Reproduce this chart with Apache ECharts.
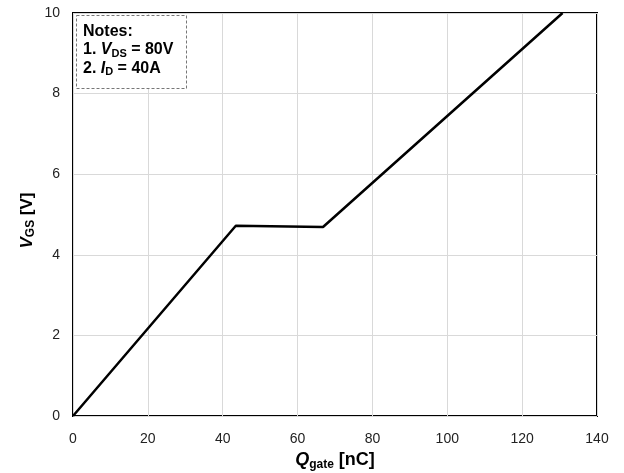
<!DOCTYPE html>
<html>
<head>
<meta charset="utf-8">
<script src="https://cdn.jsdelivr.net/npm/echarts@6/dist/echarts.min.js"></script>
<style>
  html, body { margin: 0; padding: 0; background: #fff; }
  #main { width: 624px; height: 473px; }
</style>
</head>
<body>
<div id="main"></div>
<script type="text/javascript">
    // gate charge curve
    var qGate = [0, 43.5, 66.8, 130.8];
    var vGs = [0, 4.72, 4.69, 10];
    var xTicks = [0, 140, 20];
    var yTicks = [0, 10, 2];

    var points = [];
    for (var i = 0; i < qGate.length; i++) {
        points.push([qGate[i], vGs[i]]);
    }

    var font = 'Liberation Sans, Arial, sans-serif';
    var myChart = echarts.init(document.getElementById('main'));

    var option = {
        animation: false,
        backgroundColor: '#fff',
        grid: {
            left: 73, right: 27, top: 13, bottom: 57,
            outerBoundsMode: 'none',
            show: true, borderColor: '#000', borderWidth: 2
        },
        xAxis: {
            type: 'value',
            min: xTicks[0], max: xTicks[1], interval: xTicks[2],
            name: '{q|Q}{s|gate}{b| [nC]}',
            nameLocation: 'middle',
            nameGap: 31,
            nameTextStyle: {
                rich: {
                    q: { fontFamily: font, fontSize: 18, fontWeight: 'bold', fontStyle: 'italic', color: '#000' },
                    s: { fontFamily: font, fontSize: 12, fontWeight: 'bold', color: '#000', verticalAlign: 'bottom', padding: [9, 0, 0, 0] },
                    b: { fontFamily: font, fontSize: 18, fontWeight: 'bold', color: '#000' }
                }
            },
            axisLine: { show: false },
            axisTick: { show: false },
            axisLabel: { fontFamily: font, fontSize: 14, color: '#222', margin: 16 },
            splitLine: { lineStyle: { color: '#d9d9d9', width: 1 } }
        },
        yAxis: {
            type: 'value',
            min: yTicks[0], max: yTicks[1], interval: yTicks[2],
            name: '{q|V}{s|GS}{b| [V]}',
            nameLocation: 'middle',
            nameGap: 36,
            nameMoveOverlap: false,
            nameRotate: 90,
            nameTextStyle: {
                padding: [0, 12, 0, 0],
                rich: {
                    q: { fontFamily: font, fontSize: 17, fontWeight: 'bold', fontStyle: 'italic', color: '#000' },
                    s: { fontFamily: font, fontSize: 12, fontWeight: 'bold', color: '#000', verticalAlign: 'bottom', padding: [8, 0, 0, 0] },
                    b: { fontFamily: font, fontSize: 17, fontWeight: 'bold', color: '#000' }
                }
            },
            axisLine: { show: false },
            axisTick: { show: false },
            axisLabel: { fontFamily: font, fontSize: 14, color: '#222', margin: 13 },
            splitLine: { lineStyle: { color: '#d9d9d9', width: 1 } }
        },
        graphic: [
            {
                type: 'rect',
                left: 76, top: 15,
                shape: { width: 110, height: 73 },
                style: { fill: '#fff', stroke: '#777', lineWidth: 1, lineDash: [3, 2] },
                z: 10
            },
            {
                type: 'text',
                left: 83, top: 22,
                z: 11,
                style: {
                    text: 'Notes:\n1. {i|V}{s|DS} = 80V\n2. {i|I}{s|D} = 40A',
                    fontFamily: font, fontSize: 16, fontWeight: 'bold', fill: '#000',
                    lineHeight: 18.5,
                    rich: {
                        i: { fontFamily: font, fontSize: 16, fontWeight: 'bold', fontStyle: 'italic', fill: '#000' },
                        s: { fontFamily: font, fontSize: 11, fontWeight: 'bold', fill: '#000', verticalAlign: 'bottom', padding: [6, 0, 0, 0] }
                    }
                }
            }
        ],
        series: [{
            type: 'line',
            data: points,
            symbol: 'none',
            lineStyle: { color: '#000', width: 2.5 },
            z: 5
        }]
    };
    myChart.setOption(option);
</script>
</body>
</html>
